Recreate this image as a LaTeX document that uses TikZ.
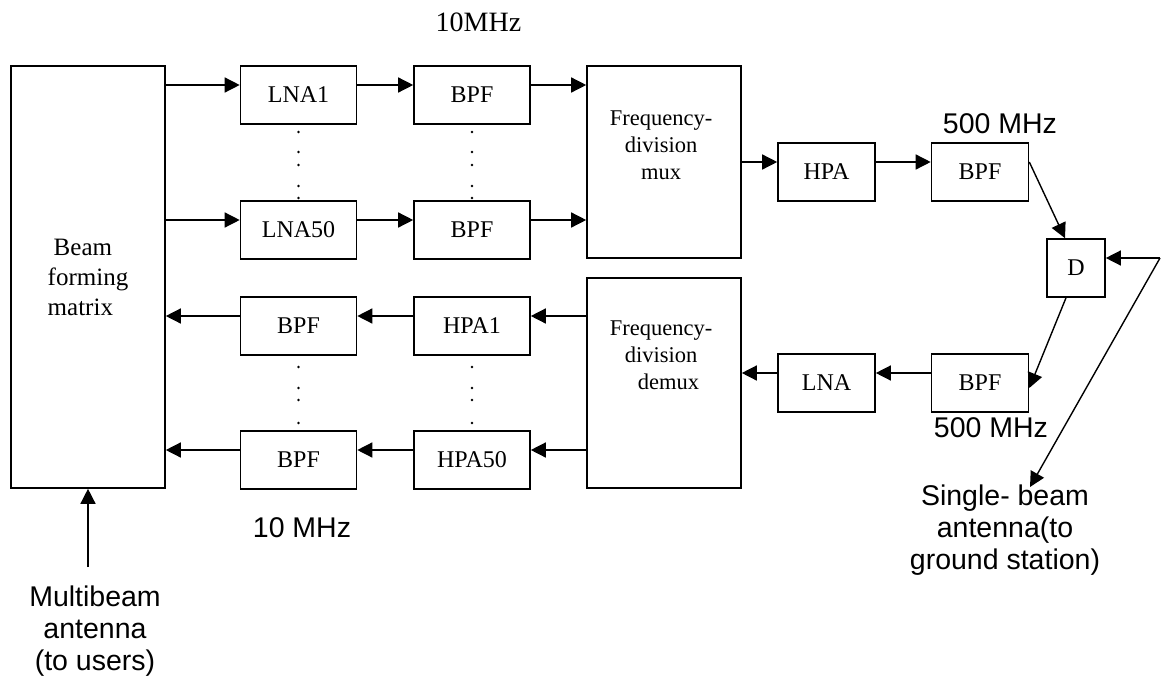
\documentclass[tikz,border=0pt]{standalone}
\usepackage{fontspec}
\setmainfont{Liberation Serif}
\setsansfont{Liberation Sans}
\usetikzlibrary{arrows.meta,positioning}

\tikzset{
	blk/.style={draw, line width=1.6pt, inner sep=0pt, minimum height=58pt, font=\fontsize{24}{28}\selectfont},
	wblk/.style={blk, minimum width=116pt},
	nblk/.style={blk, minimum width=97pt},
	arr/.style={line width=1.4pt, -{Triangle[length=15pt,width=15pt]}},
	lbl/.style={inner sep=0pt, font=\sffamily\fontsize{28.5}{32}\selectfont, align=center},
	mtxt/.style={inner sep=0pt, font=\fontsize{22.5}{27}\selectfont, align=center},
}

\begin{document}
\begin{tikzpicture}[x=1pt,y=-1pt]
	\useasboundingbox (0,0) rectangle (1161,677);
	% beam forming matrix
	\node[blk, minimum width=154pt, minimum height=422pt, align=left, font=\fontsize{25}{30}\selectfont] (bfm) at (88,277) {\hspace*{6pt}Beam\\forming\\matrix};
	% up-link chains
	\node[wblk] (lna1) at (298.5,95) {LNA1};
	\node[wblk] (lna50) at (298.5,230) {LNA50};
	\node[wblk] (bpf1) at (472,95) {BPF};
	\node[wblk] (bpf50) at (472,230) {BPF};
	% down-link chains
	\node[wblk] (bpfd1) at (298.5,326) {BPF};
	\node[wblk] (bpfd50) at (298.5,460) {BPF};
	\node[wblk] (hpa1) at (472,326) {HPA1};
	\node[wblk] (hpa50) at (472,460) {HPA50};
	% mux and demux
	\node[blk, minimum width=154pt, minimum height=192pt] (mux) at (664,162) {};
	\node[blk, minimum width=154pt, minimum height=210pt] (demux) at (664,383) {};
	\node[mtxt, below=45.5pt of mux.north, xshift=-3pt] (muxtxt) {Frequency-\\division\\mux};
	\node[mtxt, below=43.5pt of demux.north, xshift=-3pt] (demuxtxt) {Frequency-\\division\\\hspace*{15pt}demux};
	% ground station side
	\node[nblk] (hpa) at (826.5,172) {HPA};
	\node[nblk] (lna) at (826.5,383) {LNA};
	\node[nblk] (bpfu) at (980,172) {BPF};
	\node[nblk] (bpfl) at (980,383) {BPF};
	\node[blk, minimum width=58pt] (dup) at (1076,268) {D};
	% labels
	\node[mtxt, font=\fontsize{28}{32}\selectfont] (ftop) at (478.5,22) {10MHz};
	\node[lbl] (fbot) at (302,528) {10 MHz};
	\node[lbl] (fup) at (1000,124) {500 MHz};
	\node[lbl] (flow) at (991,428) {500 MHz};
	\node[lbl, anchor=north] (mb) at (95,586) {Multibeam\\antenna\\(to users)};
	\node[lbl, anchor=north] (sb) at (1005,485) {Single- beam\\antenna(to\\ground station)};

	\foreach \r in {lna1,lna50,bpf1,bpf50,bpfd1,bpfd50,hpa1,hpa50,hpa,lna,bpfu,bpfl}{
		\coordinate (\r-w) at ([yshift=10pt]\r.west);
		\coordinate (\r-e) at ([yshift=10pt]\r.east);
	}
	% up-link
	\foreach \a/\b in {lna1/bpf1, lna50/bpf50, hpa/bpfu}
		\draw[arr] (\a-e) -- (\b-w);
	\foreach \r in {lna1,lna50}
		\draw[arr] (\r-w -| bfm.east) -- (\r-w);
	\foreach \r in {bpf1,bpf50}
		\draw[arr] (\r-e) -- (\r-e -| mux.west);
	\draw[arr] (hpa-w -| mux.east) -- (hpa-w);
	% down-link
	\foreach \a/\b in {hpa1/bpfd1, hpa50/bpfd50, bpfl/lna}
		\draw[arr] (\a-w) -- (\b-e);
	\foreach \r in {bpfd1,bpfd50}
		\draw[arr] (\r-w) -- (\r-w -| bfm.east);
	\foreach \r in {hpa1,hpa50}
		\draw[arr] (\r-e -| demux.west) -- (\r-e);
	\draw[arr] (lna-w) -- (lna-w -| demux.east);
	% dots between the chains
	\foreach \y in {132,152,165,186,198}{
		\fill (lna1.south |- 0,\y) circle (1.4pt);
		\fill (bpf1.south |- 0,\y) circle (1.4pt);
	}
	\foreach \y in {367,388,400,423}{
		\fill (bpfd1.south |- 0,\y) circle (1.4pt);
		\fill (hpa1.south |- 0,\y) circle (1.4pt);
	}
	% duplexer and antennas
	\draw[arr] (bpfu-e) -- ([xshift=-11pt]dup.north);
	\draw[arr] ([xshift=-10pt]dup.south) -- ([yshift=-5pt]bpfl.east);
	\coordinate (ant) at (1160,258);
	\draw[arr] (ant) -- (ant -| dup.east);
	\draw[arr] (ant) -- ([xshift=25pt,yshift=-2pt]sb.north);
	\coordinate (mbtip) at ([yshift=19pt]mb.north);
	\draw[arr] (mbtip -| bfm.south) -- (bfm.south);
\end{tikzpicture}
\end{document}
